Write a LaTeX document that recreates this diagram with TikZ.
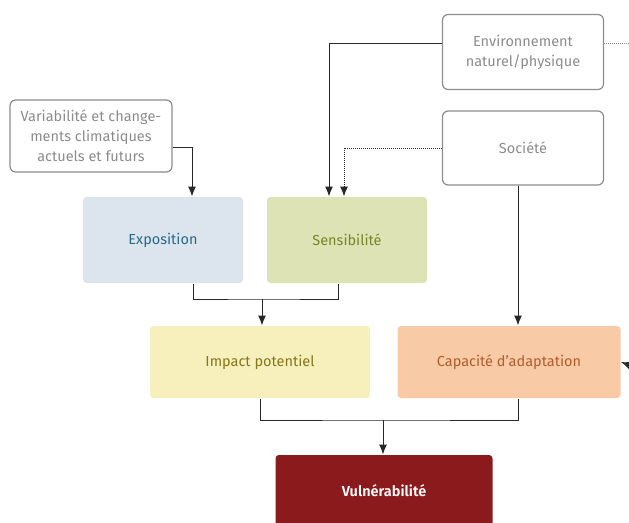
\documentclass[tikz,border=0pt]{standalone}
\usepackage{fontspec}
\setmainfont{Fira Sans}[BoldFont=* SemiBold]
\usetikzlibrary{positioning, arrows.meta}
\tikzset{every picture/.style={line width=1pt}}
\definecolor{box-grey}{RGB}{140,140,140}
\definecolor{line-grey}{RGB}{40,40,40}
\definecolor{expo-fill}{RGB}{220,229,238}
\definecolor{expo-text}{RGB}{42,105,138}
\definecolor{sens-fill}{RGB}{222,227,181}
\definecolor{sens-text}{RGB}{118,134,40}
\definecolor{imp-fill}{RGB}{247,239,188}
\definecolor{imp-text}{RGB}{135,118,28}
\definecolor{cap-fill}{RGB}{248,203,166}
\definecolor{cap-text}{RGB}{178,92,44}
\definecolor{vuln-fill}{RGB}{139,26,28}

\begin{document}
\begin{tikzpicture}
    [x=1pt, y=-1pt,
    src/.style = {rectangle, draw=box-grey, text=box-grey, align=center,
            line width=1.2pt, rounded corners=0.2cm, font=\fontsize{14.5}{20}\selectfont},
    rect/.style = {rectangle, align=center, inner sep=0pt,
            rounded corners=0.12cm, font=\fontsize{14.5}{17}\selectfont},
    line-grey, -{Latex[length=10pt, width=8pt]},
    ]

\useasboundingbox (0,0) rectangle (629,522);

% sources
\node[src, minimum width=162pt, minimum height=72pt] (var) at (91,136)
    {Variabilité et change-\\ments climatiques\\actuels et futurs};
\node[src, minimum width=161pt, minimum height=75pt] (env) at (523,52)
    {Environnement\\naturel/physique};
\node[src, minimum width=161pt, minimum height=74pt] (soc) at (523,148) {Société};

% components
\node[rect, minimum width=160pt, minimum height=86pt, fill=expo-fill, text=expo-text] (expo) at (163,240) {Exposition};
\node[rect, minimum width=160pt, minimum height=86pt, fill=sens-fill, text=sens-text] (sens) at (347,240) {Sensibilité};
\node[rect, minimum width=220pt, minimum height=72pt, fill=imp-fill, text=imp-text] (imp) at (260,362) {Impact potentiel};
\node[rect, minimum width=223pt, minimum height=72pt, fill=cap-fill, text=cap-text] (cap) at (509,362) {Capacité d’adaptation};
\node[rect, minimum width=217pt, minimum height=72pt, fill=vuln-fill, text=white, font=\fontsize{14.5}{17}\selectfont\bfseries] (vuln) at (384,491) {Vulnérabilité};

\coordinate (envout) at (629,43);
\coordinate (capin) at (629,365);
\coordinate (j1) at (262,299);
\coordinate (j2) at (383,420);

% connectors
\draw ([yshift=-11pt]var.east) -| ([xshift=29pt]expo.north);
\draw ([yshift=9pt]env.west) -| ([xshift=-18pt]sens.north);
\draw[densely dotted, box-grey, -] ([yshift=9pt]env.east) -- (envout);
\draw[densely dotted] (soc.west) -| ([xshift=-3pt]sens.north);
\draw ([xshift=-5pt]soc.south) -- ([xshift=-5pt]soc.south |- cap.north);
\draw (capin) -- (cap.east);
\draw[-] ([xshift=30pt]expo.south) |- (j1) -| ([xshift=-9pt]sens.south);
\draw (j1) -- (j1 |- imp.north);
\draw[-] (imp.south) |- (j2) -| ([xshift=9pt]cap.south);
\draw (j2) -- (j2 |- vuln.north);

\end{tikzpicture}
\end{document}
